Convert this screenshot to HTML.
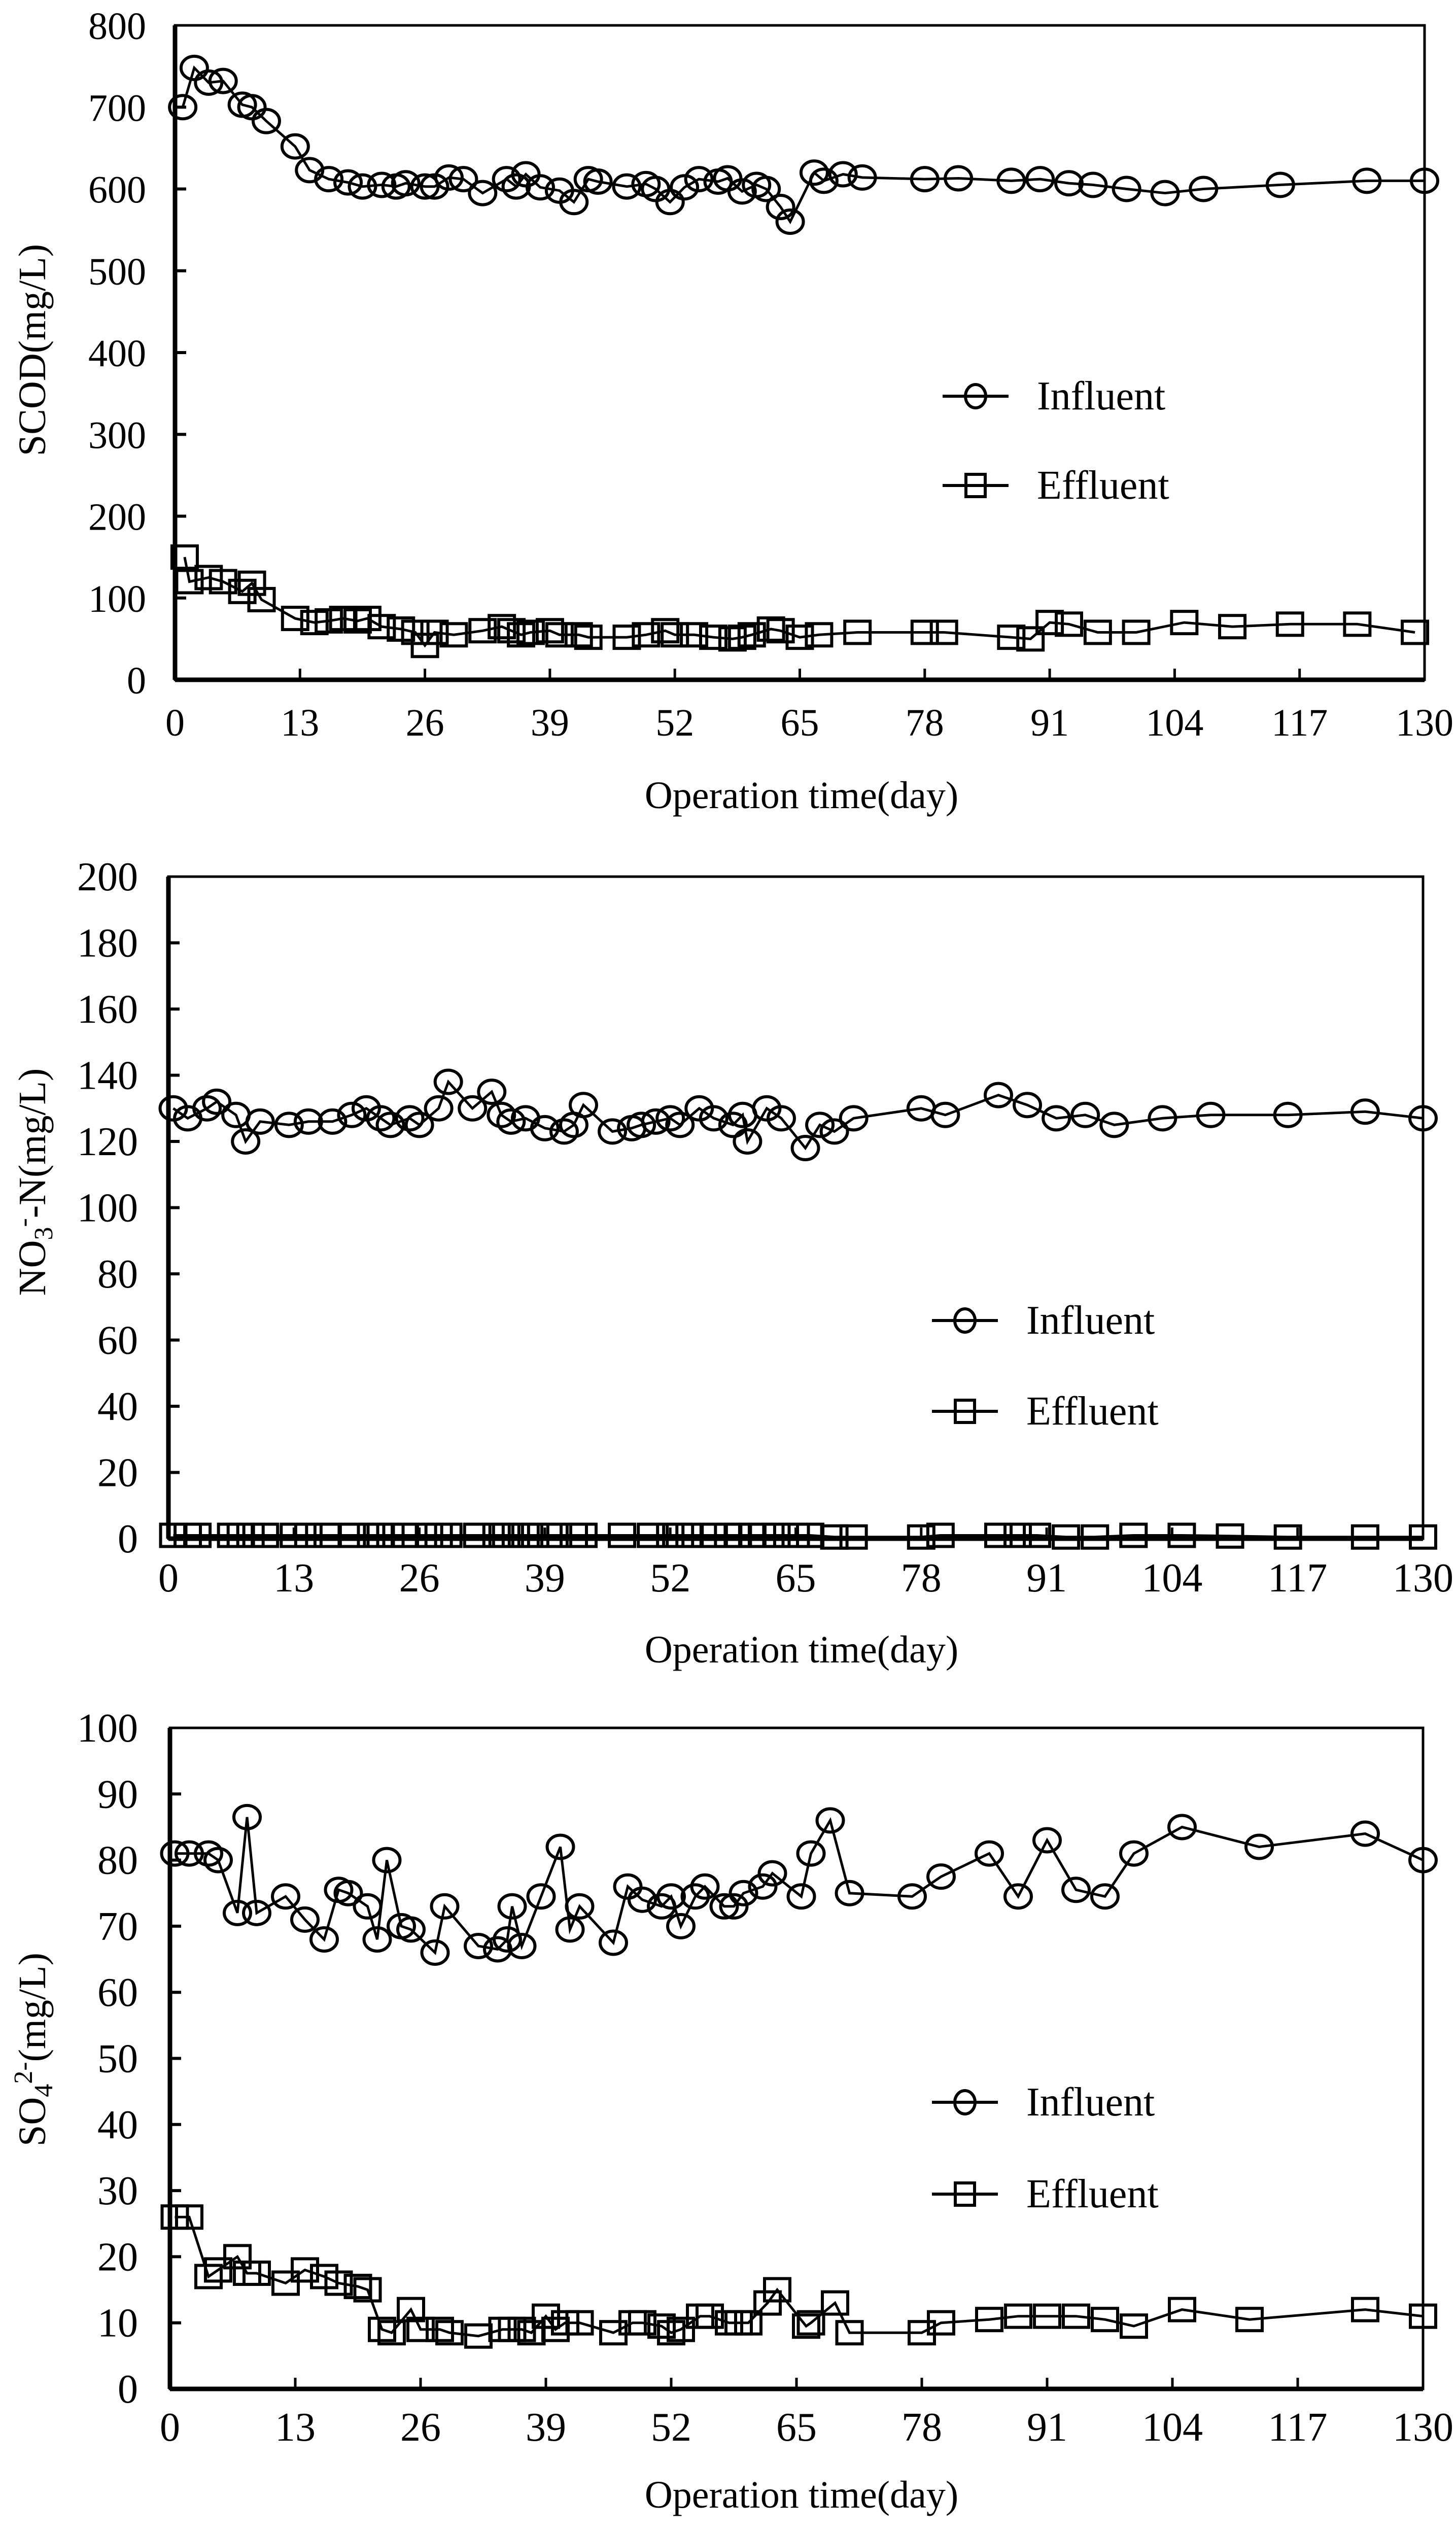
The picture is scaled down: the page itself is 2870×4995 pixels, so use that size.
<!DOCTYPE html>
<html><head><meta charset="utf-8">
<style>
html,body{margin:0;padding:0;background:#fff;}
svg{display:block;}
text{font-family:"Liberation Serif","Noto Serif CJK SC",serif;fill:#000;}
</style></head>
<body>
<svg id="fig" width="2870" height="4995" viewBox="0 0 2870 4995" xmlns="http://www.w3.org/2000/svg"></svg>
<script>
// ---------- chart data ----------
const xTicks = [0,13,26,39,52,65,78,91,104,117,130];

const scodInfDays = [0.8,2,3.5,5,7,8,9.5,12.5,14,16,18,19.5,21.5,23,24,26,27,28.5,30,32,34.5,35.5,36.5,38,40,41.5,43,44,47,49,50,51.5,53,54.5,56.5,57.5,59,60.5,61.5,63,64,66.5,67.5,69.5,71.5,78,81.5,87,90,93,95.5,99,103,107,115,124,130];
const scodInfVals = [700,748,730,732,703,700,683,652,623,612,608,603,605,603,607,603,603,614,612,595,612,603,618,602,598,584,612,609,603,606,600,584,602,612,609,613,597,605,600,578,560,620,610,618,614,612,613,610,612,607,605,600,595,600,605,610,610];
const scodEffDays = [1,1.5,3.5,5,7,8,9,12.5,14.5,16,17.5,19,20,21.5,23.5,25,26,27,29,32,34,35,36,37,39,40,42,43,47,49,51,52,54,56,58,59,60,62,63,65,67,71,78,80,87,89,91,93,96,100,105,110,116,123,129];
const scodEffVals = [150,120,125,120,108,118,98,75,70,72,75,72,75,65,62,58,42,58,55,60,65,60,55,58,60,55,55,52,52,55,60,55,55,52,50,52,55,62,60,52,55,58,58,58,52,50,70,68,58,58,70,65,68,68,58];
const scodTicks = [0,100,200,300,400,500,600,700,800];

const no3InfDays = [0.5,2,4,5,7,8,9.5,12.5,14.5,17,19,20.5,22,23,25,26,28,29,31.5,33.5,34.5,35.5,37,39,41,42,43,46,48,49,50.5,52,53,55,56.5,58.5,59.5,60,62,63.5,66,67.5,69,71,78,80.5,86,89,92,95,98,103,108,116,124,130];
const no3InfVals = [130,127,130,132,128,120,126,125,126,126,128,130,127,125,127,125,130,138,130,135,128,126,127,124,123,125,131,123,124,125,126,127,125,130,127,125,128,120,130,127,118,125,123,127,130,128,134,131,127,128,125,127,128,128,129,127];
const no3EffDays = [0.5,2,3,6.5,7.5,8.5,10,13,14.5,16.5,19,21,22,23,24.5,27,28,29,32,34,35,36,37,38,40,42,43,47,50,52,53,54,56.5,58,59,60.5,61.5,63,65,66.5,69,71,78,80,86,88,90,93,96,100,105,110,116,124,130];
const no3EffVals = [1,1,1,1,1,1,1,1,1,1,1,1,1,1,1,1,1,1,1,1,1,1,1,1,1,1,1,1,1,1,1,1,1,1,1,1,1,1,1,1,0.5,0.5,0.5,1,1,1,1,0.5,0.5,1,1,0.8,0.5,0.5,0.5];
const no3Ticks = [0,20,40,60,80,100,120,140,160,180,200];

const so4InfDays = [0.5,2,4,5,7,8,9,12,14,16,17.5,18.5,20.5,21.5,22.5,24,25,27.5,28.5,32,34,35,35.5,36.5,38.5,40.5,41.5,42.5,46,47.5,49,51,52,53,54.5,55.5,57.5,58.5,59.5,61.5,62.5,65.5,66.5,68.5,70.5,77,80,85,88,91,94,97,100,105,113,124,130];
const so4InfVals = [81,81,81,80,72,86.5,72,74.5,71,68,75.5,75,73,68,80,70,69.5,66,73,67,66.5,68,73,67,74.5,82,69.5,73,67.5,76,74,73,74.5,70,74.5,76,73,73,75,76,78,74.5,81,86,75,74.5,77.5,81,74.5,83,75.5,74.5,81,85,82,84,80];
const so4EffDays = [0.5,2,4,5,7,8,9,12,14,16,17.5,19.5,20.5,22,23,25,26,28,29,32,34.5,35.5,36.5,37.5,39,40,41,42.5,46,48,49,51,52,53,55,56,58,59,60,62,63,66,66.5,69,70.5,78,80,85,88,91,94,97,100,105,112,124,130];
const so4EffVals = [26,26,17,18,20,17.5,17.5,16,18,17,16,15.5,15,9,8.5,12,9,9,8.5,8,9,9,9,8.5,11,9,10,10,8.5,10,10,9.5,8.5,9,11,11,10,10,10,13,15,9.5,10,13,8.5,8.5,10,10.5,11,11,11,10.5,9.5,12,10.5,12,11];
const so4Ticks = [0,10,20,30,40,50,60,70,80,90,100];

// ---------- drawing ----------
const NS = "http://www.w3.org/2000/svg";
const fig = document.getElementById('fig');
function mk(tag, attrs, parent){
  const e = document.createElementNS(NS, tag);
  for (const k in attrs) e.setAttribute(k, attrs[k]);
  (parent||fig).appendChild(e);
  return e;
}

function drawChart(cfg){
  const g = mk('g', {});
  
  
  const L=cfg.left, R=cfg.right, T=cfg.top, B=cfg.bottom;
  const xs = d => L + (d/130)*(R-L);
  const ys = v => B - (v/cfg.ymax)*(B-T);

  // frame
  const frame = mk('rect', {x:L, y:T, width:R-L, height:B-T, fill:'none', stroke:'#000', 'stroke-width':5}, g);
  
  
  const yax = mk('line', {x1:L, y1:T, x2:L, y2:B, stroke:'#000', 'stroke-width':9}, g);
  
  
  const xax = mk('line', {x1:L, y1:B, x2:R, y2:B, stroke:'#000', 'stroke-width':9}, g);
  
  

  // y ticks
  cfg.yticks.forEach(v => {
    const y = ys(v);
    if (v>0 && v<cfg.ymax) {
      const t = mk('line', {x1:L, y1:y, x2:L+22, y2:y, stroke:'#000', 'stroke-width':6}, g);
      
      
    }
    const tx = mk('text', {x:cfg.ylabRight, y:y+27, 'text-anchor':'end', 'font-size':cfg.fs}, g);
    
    
    tx.textContent = v;
  });
  // x ticks
  xTicks.forEach(d => {
    const x = xs(d);
    if (d>0 && d<130) {
      const t = mk('line', {x1:x, y1:B, x2:x, y2:B-22, stroke:'#000', 'stroke-width':5}, g);
      
      
    }
    const tx = mk('text', {x:x, y:cfg.xlabY+27, 'text-anchor':'middle', 'font-size':cfg.fs}, g);
    
    
    tx.textContent = d;
  });
  // x title
  const xt = mk('text', {x:1580, y:cfg.xtitleY+25, 'text-anchor':'middle', 'font-size':76}, g);
  
  
  xt.textContent = 'Operation time(day)';
  // y title
  const yt = mk('text', {x:0, y:0, 'text-anchor':'middle', 'font-size':76, transform:`translate(${cfg.ytitleX+25},${cfg.ytitleY}) rotate(-90)`}, g);
  
  
  cfg.ytitle(yt);

  // series
  function series(days, vals, shape, nm){
    const sg = mk('g', {}, g);
    
    
    const pts = days.map((d,i)=>xs(d).toFixed(1)+','+ys(vals[i]).toFixed(1)).join(' ');
    const pl = mk('polyline', {points:pts, fill:'none', stroke:'#000', 'stroke-width':5}, sg);
    
    
    days.forEach((d,i)=>{
      const x=xs(d), y=ys(vals[i]);
      let m;
      if (shape==='circle') m = mk('ellipse', {cx:x, cy:y, rx:26, ry:23, fill:'none', stroke:'#000', 'stroke-width':6}, sg);
      else m = mk('rect', {x:x-25, y:y-22, width:50, height:44, fill:'none', stroke:'#000', 'stroke-width':6}, sg);
      
      
    });
  }
  series(cfg.infD, cfg.infV, 'circle', 'influent-series');
  series(cfg.effD, cfg.effV, 'square', 'effluent-series');

  // legend
  [['Influent','circle',cfg.leg1Y],['Effluent','square',cfg.leg2Y]].forEach(([lab,shape,y])=>{
    const lg = mk('g', {}, g);
    
    
    mk('line', {x1:cfg.legX, y1:y, x2:cfg.legX+130, y2:y, stroke:'#000', 'stroke-width':6}, lg);
    const cx = cfg.legX+65;
    if (shape==='circle') mk('ellipse', {cx:cx, cy:y, rx:20, ry:23, fill:'none', stroke:'#000', 'stroke-width':6}, lg);
    else mk('rect', {x:cx-19, y:y-22, width:38, height:44, fill:'none', stroke:'#000', 'stroke-width':6}, lg);
    const t = mk('text', {x:cfg.legX+186, y:y+26, 'font-size':80}, lg);
    t.textContent = lab;
  });
}

drawChart({name:'scod-chart', left:345, right:2808, top:50, bottom:1340, ymax:800, yticks:scodTicks,
  fs:76, ylabRight:288, xlabY:1423, xtitleY:1568, ytitleX:64, ytitleY:690,
  ytitle:t=>{t.textContent='SCOD(mg/L)';},
  infD:scodInfDays, infV:scodInfVals, effD:scodEffDays, effV:scodEffVals,
  legX:1858, leg1Y:781, leg2Y:957});

drawChart({name:'nitrate-chart', left:332, right:2805, top:1728, bottom:3033, ymax:200, yticks:no3Ticks,
  fs:80, ylabRight:272, xlabY:3110, xtitleY:3252, ytitleX:64, ytitleY:2330,
  ytitle:t=>{t.innerHTML='NO<tspan font-size="52" dy="14">3</tspan><tspan font-size="52" dy="-40">-</tspan><tspan dy="26">-N(mg/L)</tspan>';},
  infD:no3InfDays, infV:no3InfVals, effD:no3EffDays, effV:no3EffVals,
  legX:1837, leg1Y:2603, leg2Y:2782});

drawChart({name:'sulfate-chart', left:335, right:2805, top:3406, bottom:4709, ymax:100, yticks:so4Ticks,
  fs:80, ylabRight:272, xlabY:4784, xtitleY:4918, ytitleX:64, ytitleY:4040,
  ytitle:t=>{t.innerHTML='SO<tspan font-size="52" dy="14">4</tspan><tspan font-size="52" dy="-40">2-</tspan><tspan dy="26">(mg/L)</tspan>';},
  infD:so4InfDays, infV:so4InfVals, effD:so4EffDays, effV:so4EffVals,
  legX:1837, leg1Y:4144, leg2Y:4325});
</script>
</body></html>
